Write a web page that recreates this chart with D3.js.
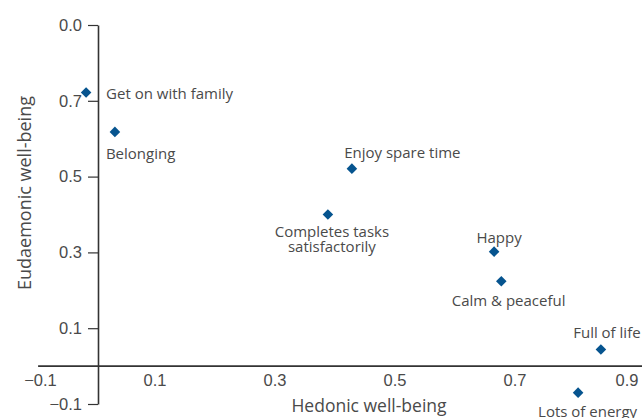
<!DOCTYPE html>
<html><head><meta charset="utf-8">
<script src="https://cdn.jsdelivr.net/npm/d3@7"></script>
<style>
body{margin:0;background:#fff;}
svg{display:block;font-family:"Open Sans","DejaVu Sans",sans-serif;}
</style></head>
<body><svg id="c" width="642" height="418"></svg>
<script>
const labels = ["Get on with family","Belonging","Enjoy spare time","Completes tasks\nsatisfactorily","Happy","Calm & peaceful","Full of life","Lots of energy"];
const hedonic = [-0.014, 0.034, 0.429, 0.389, 0.666, 0.678, 0.844, 0.806];
const eudaemonic = [0.722, 0.618, 0.521, 0.400, 0.302, 0.224, 0.044, -0.070];
const xTicks = [-0.1, 0.1, 0.3, 0.5, 0.7, 0.9];
const xTickLabels = ["\u22120.1","0.1","0.3","0.5","0.7","0.9"];
const yTicks = [0.9, 0.7, 0.5, 0.3, 0.1, -0.1];
const yTickLabels = ["0.0","0.7","0.5","0.3","0.1","\u22120.1"];
// label placement: [anchor, dx, dy (centre of first line)]
const labelPos = [["start",20,1],["start",-9,21.6],["start",-7.7,-15.4],["middle",4,17.4],["middle",5,-14],["middle",7.3,19.7],["start",-27.7,-16.6],["start",-40,19]];

const svg = d3.select("#c");
const x = d3.scaleLinear().domain([-0.1, 0.9]).range([34.5, 634.5]);
const y = d3.scaleLinear().domain([-0.1, 0.9]).range([404, 25]);
const txt = "#4a4a4a";

// x axis line
svg.append("line").attr("x1", x(-0.094)).attr("x2", x(0.935))
  .attr("y1", y(0)).attr("y2", y(0)).attr("stroke", "#333").attr("stroke-width", 1.6);

// x tick labels
const xa = svg.append("g").attr("transform", `translate(0,${y(0)})`)
  .call(d3.axisBottom(x).tickValues(xTicks).tickSize(0).tickPadding(8)
    .tickFormat((d, i) => xTickLabels[i]));
xa.select(".domain").remove();
xa.selectAll("text").attr("fill", txt).attr("font-size", 16.5)
  .attr("dx", (d, i) => i === 0 ? 5.5 : (i === xTicks.length - 1 ? -8 : 0));

// y axis
const ya = svg.append("g").attr("transform", `translate(${x(0) + 3.5},0)`)
  .call(d3.axisLeft(y).tickValues(yTicks).tickSizeOuter(0).tickSizeInner(10).tickPadding(6)
    .tickFormat((d, i) => yTickLabels[i]));
ya.select(".domain").attr("stroke", "#333").attr("stroke-width", 1.6);
ya.selectAll(".tick line").attr("stroke", "#333").attr("stroke-width", 1.2);
ya.selectAll("text").attr("fill", txt).attr("font-size", 16.5);

// points
const data = labels.map((l, i) => ({l, h: hedonic[i], e: eudaemonic[i], p: labelPos[i]}));
svg.append("g").selectAll("path").data(data).join("path")
  .attr("d", d3.symbol(d3.symbolSquare, 56)())
  .attr("transform", d => `translate(${x(d.h)},${y(d.e)}) rotate(45)`)
  .attr("fill", "#06548f");

const lg = svg.append("g").attr("font-size", 15).attr("fill", txt);
data.forEach(d => {
  const t = lg.append("text").attr("text-anchor", d.p[0])
    .attr("x", x(d.h) + d.p[1]).attr("y", y(d.e) + d.p[2]);
  const lines = d.l.split("\n");
  lines.forEach((s, j) => t.append("tspan").attr("x", x(d.h) + d.p[1])
    .attr("dy", j === 0 ? "0.35em" : "0.98em").text(s));
});

// axis titles
svg.append("text").attr("x", 369).attr("y", 411.5).attr("text-anchor", "middle")
  .attr("fill", txt).attr("font-size", 17.5).text("Hedonic well-being");
svg.append("text").attr("transform", "translate(31,193) rotate(-90)").attr("text-anchor", "middle")
  .attr("fill", txt).attr("font-size", 18).text("Eudaemonic well-being");
</script></body></html>
